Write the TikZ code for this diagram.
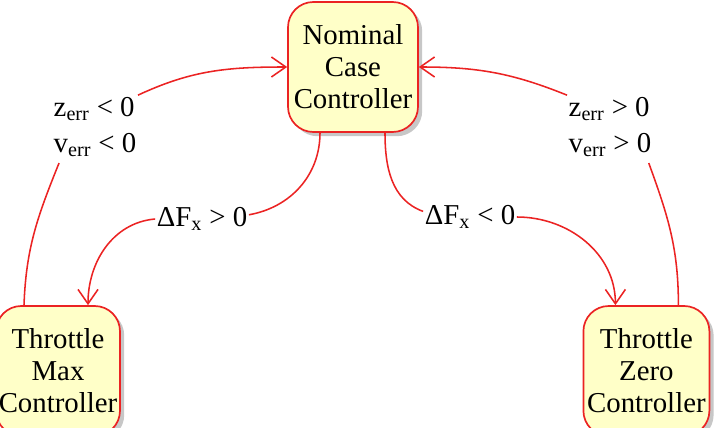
\documentclass[tikz,border=0pt]{standalone}
\usepackage{fontspec}
\setmainfont{Liberation Serif}
\usepackage{tikz}
\usetikzlibrary{arrows.meta,positioning,shadows}
\definecolor{ctrlfill}{RGB}{255,255,200}
\definecolor{ctrlred}{RGB}{235,35,35}

\begin{document}
\begin{tikzpicture}[
  ctrl/.style={draw=ctrlred, rounded corners=18pt, line width=1.2pt, fill=ctrlfill, align=center,
    minimum width=3.15cm, minimum height=3.25cm, inner sep=1pt,
    font=\fontsize{20.5}{22.8}\selectfont,
    drop shadow={shadow xshift=3pt, shadow yshift=-3pt, fill=gray!55, opacity=0.8}},
  cond/.style={align=left, inner sep=1pt, font=\fontsize{20.5}{26}\selectfont},
  trans/.style={draw=ctrlred, line width=1.1pt, -{Straight Barb[length=3.6mm, width=5mm, line width=1.1pt]}},
  link/.style={draw=ctrlred, line width=1.1pt}
]
  \useasboundingbox (0,0) rectangle (17.9,10.675);

  % Controllers
  \node[ctrl, minimum width=3.25cm] (nominal) at (8.825, 9.0) {Nominal\\Case\\Controller};
  \node[ctrl, minimum width=3.1cm] (tmax) at (1.45, 1.4) {Throttle\\Max\\Controller};
  \node[ctrl] (tzero) at (16.16, 1.4) {Throttle\\Zero\\Controller};

  % Switching conditions
  \node[cond] (condzl) at (2.375, 7.5) {z\textsubscript{err} < 0\\v\textsubscript{err} < 0};
  \node[cond] (condzr) at (15.25, 7.5) {z\textsubscript{err} > 0\\v\textsubscript{err} > 0};
  \node[cond] (dfl) at (5.05, 5.2) {ΔF\textsubscript{x} > 0};
  \node[cond] (dfr) at (11.75, 5.25) {ΔF\textsubscript{x} < 0};

  % Back to nominal
  \draw[link] ([xshift=-0.85cm]tmax.north) to[out=88, in=-112] ([xshift=5pt, yshift=-3pt]condzl.south west);
  \draw[trans] (condzl.north east) to[out=25, in=180] (nominal.west);
  \draw[link] ([xshift=0.8cm]tzero.north) to[out=90, in=-70] ([xshift=-3pt, yshift=-3pt]condzr.south east);
  \draw[trans] (condzr.north west) to[out=158, in=0] (nominal.east);

  % Nominal to throttle limits
  \draw[link] ([xshift=-0.825cm]nominal.south) to[out=-90, in=10] ([yshift=3pt]dfl.east);
  \draw[trans] (dfl.west) to[out=185, in=90] ([xshift=0.75cm]tmax.north);
  \draw[link] ([xshift=0.8cm]nominal.south) to[out=-90, in=160] ([yshift=4pt]dfr.west);
  \draw[trans] (dfr.east) to[out=0, in=90] ([xshift=-0.775cm]tzero.north);

\end{tikzpicture}
\end{document}
